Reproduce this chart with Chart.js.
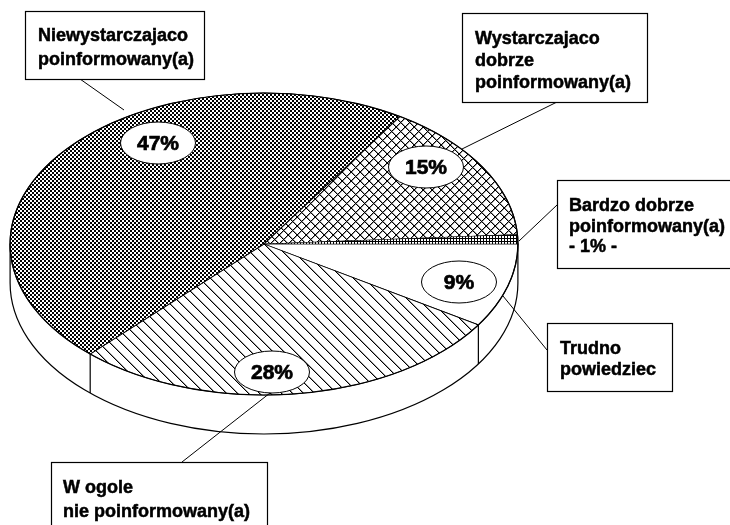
<!DOCTYPE html>
<html>
<head>
<meta charset="utf-8">
<style>
  html, body { margin: 0; padding: 0; background: #fff; overflow: hidden; }
  canvas { display: block; }
</style>
<script src="https://cdn.jsdelivr.net/npm/chart.js@4"></script>
</head>
<body>
<canvas id="chartCanvas" width="730" height="525"></canvas>
<script>
// Donnees, dans le sens horaire depuis 3 heures
const categories = ['Trudno powiedziec', 'W ogole nie poinformowany(a)', 'Niewystarczajaco poinformowany(a)', 'Wystarczajaco dobrze poinformowany(a)', 'Bardzo dobrze poinformowany(a)'];
const values = [9, 28, 47, 15, 1];
const boxLines = [
    ['Trudno', 'powiedziec'],
    ['W ogole', 'nie poinformowany(a)'],
    ['Niewystarczajaco', 'poinformowany(a)'],
    ['Wystarczajaco', 'dobrze', 'poinformowany(a)'],
    ['Bardzo dobrze', 'poinformowany(a)', '- 1% -']
];

// Geometrie de l'ellipse
const centerY = 244, radiusY = 151, depth = 39;

// Cadres : x, y, largeur, hauteur, x du texte, lignes de base, trait de rappel
const boxes = [
    { x: 547.5, y: 323.5, w: 125, h: 68, tx: 560, base: [354, 375], lead: [547, 350, 503, 296] },
    { x: 51.5, y: 462.5, w: 216, h: 70, tx: 63, base: [493, 517], lead: [182, 462, 270, 393] },
    { x: 25.5, y: 11.5, w: 179, h: 68, tx: 38, base: [41, 65], lead: [80, 79, 124, 110] },
    { x: 462.5, y: 13.5, w: 185, h: 89, tx: 475, base: [44, 66, 88], lead: [557, 102, 462, 149] },
    { x: 557.5, y: 180.5, w: 180, h: 88, tx: 569, base: [211, 232, 252], lead: [557, 205, 519, 241] }
];
// Bulles des pourcentages (null : la valeur est dans le cadre)
const bubbles = [[459, 282], [272, 372], [158, 143], [426, 167], null];

// Fabrique un motif de remplissage
function makePattern(w, h, paint) {
    const tile = document.createElement('canvas');
    tile.width = w;
    tile.height = h;
    const c = tile.getContext('2d');
    c.fillStyle = '#fff';
    c.fillRect(0, 0, w, h);
    c.fillStyle = '#000';
    paint(c);
    return document.getElementById('chartCanvas').getContext('2d').createPattern(tile, 'repeat');
}

const dots = makePattern(4, 4, c => {
    c.fillRect(0, 0, 2, 2);
    c.fillRect(2, 2, 2, 2);
});
const cross = makePattern(9, 9, c => {
    c.fillStyle = '#999';
    for (let i = 0; i < 9; i++) {
        c.fillRect((i + 1) % 9, i, 1, 1);
        c.fillRect((9 - i) % 9, i, 1, 1);
    }
    c.fillStyle = '#000';
    for (let i = 0; i < 9; i++) {
        c.fillRect(i, i, 1, 1);
        c.fillRect(8 - i, i, 1, 1);
    }
});
const hatch = makePattern(11, 11, c => {
    c.fillStyle = '#999';
    for (let i = 0; i < 11; i++) c.fillRect((i + 1) % 11, i, 1, 1);
    c.fillStyle = '#000';
    for (let i = 0; i < 11; i++) c.fillRect(i, i, 1, 1);
});
const grid = makePattern(3, 3, c => {
    c.fillRect(0, 0, 1, 3);
    c.fillRect(0, 0, 3, 1);
});

function ellipsePath(ctx, x, y, rx, ry, start, end) {
    ctx.beginPath();
    ctx.ellipse(x, y, rx, ry, 0, start, end);
}

// Texte un peu plus gras, comme sur l'original
function heavyText(ctx, text, x, y) {
    ctx.fillText(text, x, y);
    ctx.strokeText(text, x, y);
}

// Ecrase le camembert en ellipse et dessine la tranche, les cadres et les bulles
const pie3d = {
    id: 'pie3d',
    beforeDatasetsDraw(chart) {
        const ctx = chart.ctx;
        const arcs = chart.getDatasetMeta(0).data;
        const { x, y, outerRadius: r } = arcs[0];
        const k = radiusY / r;

        ctx.save();
        ctx.lineWidth = 1.2;
        ctx.strokeStyle = '#000';
        ctx.fillStyle = '#fff';
        // paroi du cylindre
        ctx.beginPath();
        ctx.ellipse(x, centerY + depth, r, radiusY, 0, 0, Math.PI);
        ctx.lineTo(x - r, centerY);
        ctx.lineTo(x + r, centerY);
        ctx.closePath();
        ctx.fill();
        ctx.stroke();
        arcs.forEach(arc => {
            const s = Math.sin(arc.startAngle);
            if (s > 0.05) {
                const px = x + r * Math.cos(arc.startAngle);
                const py = centerY + radiusY * s;
                ctx.beginPath();
                ctx.moveTo(px, py);
                ctx.lineTo(px, py + depth);
                ctx.stroke();
            }
        });
        ctx.restore();

        // motifs gardes a l'echelle et alignes sur les pixels malgre l'ecrasement
        [dots, cross, hatch, grid].forEach(p => p.setTransform(new DOMMatrix().translate(0, y).scale(1, 1 / k)));

        ctx.save();
        ctx.translate(0, centerY);
        ctx.scale(1, k);
        ctx.translate(0, -y);
    },
    afterDatasetsDraw(chart) {
        const ctx = chart.ctx;
        ctx.restore();
        const { x, outerRadius: r } = chart.getDatasetMeta(0).data[0];

        ctx.save();
        ctx.strokeStyle = '#000';
        ctx.lineWidth = 1.2;
        ellipsePath(ctx, x, centerY, r, radiusY, 0, Math.PI * 2);
        ctx.stroke();

        // traits de rappel
        ctx.lineWidth = 1;
        boxes.forEach(b => {
            ctx.beginPath();
            ctx.moveTo(b.lead[0], b.lead[1]);
            ctx.lineTo(b.lead[2], b.lead[3]);
            ctx.stroke();
        });

        // cadres
        ctx.textBaseline = 'alphabetic';
        ctx.textAlign = 'left';
        boxes.forEach((b, i) => {
            ctx.fillStyle = '#fff';
            ctx.fillRect(b.x, b.y, b.w, b.h);
            ctx.lineWidth = 1.2;
            ctx.strokeRect(b.x, b.y, b.w, b.h);
            ctx.fillStyle = '#000';
            ctx.font = 'bold 18px "Liberation Sans"';
            ctx.lineWidth = 0.5;
            boxLines[i].forEach((line, j) => heavyText(ctx, line, b.tx, b.base[j]));
        });

        // bulles
        ctx.textAlign = 'center';
        ctx.textBaseline = 'middle';
        ctx.font = 'bold 21px "Liberation Sans"';
        bubbles.forEach((pos, i) => {
            if (!pos) return;
            ellipsePath(ctx, pos[0], pos[1], 37.5, 21, 0, Math.PI * 2);
            ctx.fillStyle = '#fff';
            ctx.fill();
            ctx.lineWidth = 1;
            ctx.stroke();
            ctx.fillStyle = '#000';
            ctx.lineWidth = 0.7;
            heavyText(ctx, values[i] + '%', pos[0], pos[1] + 1);
        });
        ctx.restore();
    }
};

// Initialiser le graphique
const chart = new Chart(document.getElementById('chartCanvas'), {
    type: 'pie',
    data: {
        labels: categories,
        datasets: [{
            data: values,
            backgroundColor: ['#ffffff', hatch, dots, cross, grid],
            borderColor: '#000',
            borderWidth: 1.2,
            borderAlign: 'center'
        }]
    },
    options: {
        responsive: false,
        animation: false,
        rotation: 90,
        layout: { padding: { left: 9.5, right: 211.5, top: 0, bottom: 16 } },
        plugins: {
            legend: { display: false },
            tooltip: { enabled: false }
        }
    },
    plugins: [pie3d]
});
</script>
</body>
</html>
